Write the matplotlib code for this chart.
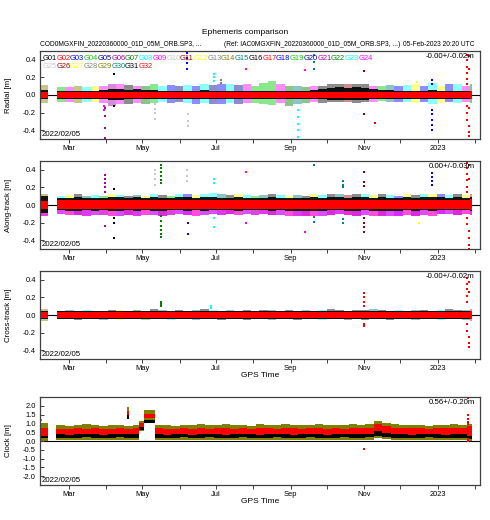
import numpy as np
import matplotlib
matplotlib.use("Agg")
import matplotlib.pyplot as plt
import matplotlib.dates as mdates
from matplotlib.ticker import FuncFormatter, FormatStrFormatter

plt.rcParams['font.family'] = ['Liberation Sans', 'DejaVu Sans']
plt.rcParams['axes.unicode_minus'] = False

nan = np.nan
# ---------------- data ----------------
week_dates = np.arange(np.datetime64('2022-02-05'), np.datetime64('2023-01-29'), 7)  # 52 weekly bins
data_end = np.datetime64('2023-01-29')

sat_names = ['G%02d' % i for i in range(1, 33)]
sat_palette = ['#000000', '#ff0000', '#0000ff', '#00c800', '#000096', '#a000a0', '#008000',
               '#00ffff', '#ff00ff', '#c8c8c8', '#960000', '#ffff00', '#808080', '#808000', '#008080']

# Radial [m]
rad_out_hi = [0.11, nan, 0.09, 0.09, 0.10, 0.09, 0.10, 0.10, 0.12, 0.12, 0.11, 0.10, 0.10, 0.12, 0.10, 0.11, 0.10, 0.11, 0.10, 0.12,
              0.11, 0.12, 0.13, 0.11, 0.12, 0.10, 0.14, 0.16, 0.12, 0.10, 0.10, 0.09, 0.10, 0.10, 0.12, 0.13, 0.12, 0.13, 0.12, 0.10,
              0.10, 0.11, 0.10, 0.11, 0.12, 0.10, 0.14, 0.10, 0.13, 0.12, 0.10, 0.12]
rad_out_lo = [-0.09, nan, -0.08, -0.08, -0.09, -0.08, -0.08, -0.09, -0.12, -0.10, -0.10, -0.09, -0.10, -0.09, -0.08, -0.09, -0.08, -0.09, -0.10, -0.09,
              -0.10, -0.10, -0.09, -0.10, -0.09, -0.09, -0.10, -0.11, -0.09, -0.12, -0.10, -0.09, -0.08, -0.09, -0.08, -0.08, -0.08, -0.09, -0.08, -0.08,
              -0.07, -0.08, -0.08, -0.08, -0.09, -0.08, -0.10, -0.09, -0.08, -0.09, -0.08, -0.09]
rad_blk_hi = [0.06, nan, 0.05, 0.05, 0.05, 0.05, 0.05, 0.06, 0.07, 0.07, 0.06, 0.07, 0.06, 0.06, 0.05, 0.05, 0.05, 0.05, 0.05, 0.06,
              0.05, 0.05, 0.05, 0.05, 0.05, 0.05, 0.05, 0.05, 0.05, 0.05, 0.05, 0.05, 0.06, 0.07, 0.08, 0.09, 0.08, 0.09, 0.08, 0.07,
              0.06, 0.06, 0.05, 0.05, 0.05, 0.05, 0.06, 0.05, 0.05, 0.05, 0.05, 0.05]
rad_blk_lo = [-0.05, nan, -0.04, -0.04, -0.04, -0.04, -0.04, -0.05, -0.06, -0.06, -0.05, -0.05, -0.05, -0.05, -0.04, -0.04, -0.04, -0.04, -0.04, -0.04,
              -0.04, -0.04, -0.04, -0.04, -0.04, -0.04, -0.04, -0.04, -0.04, -0.04, -0.04, -0.04, -0.05, -0.05, -0.06, -0.06, -0.06, -0.06, -0.06, -0.05,
              -0.05, -0.05, -0.04, -0.04, -0.04, -0.04, -0.04, -0.04, -0.04, -0.04, -0.04, -0.05]
rad_red_hi = [0.03, nan, 0.03, 0.03, 0.03, 0.03, 0.03, 0.03, 0.03, 0.03, 0.03, 0.03, 0.03, 0.03, 0.03, 0.03, 0.03, 0.03, 0.03, 0.03,
              0.03, 0.03, 0.03, 0.03, 0.03, 0.03, 0.03, 0.03, 0.03, 0.03, 0.03, 0.03, 0.03, 0.03, 0.03, 0.03, 0.03, 0.03, 0.03, 0.03,
              0.03, 0.03, 0.03, 0.03, 0.03, 0.03, 0.03, 0.03, 0.03, 0.03, 0.03, 0.04]
rad_red_lo = [-0.03, nan, -0.03, -0.03, -0.03, -0.03, -0.03, -0.03, -0.03, -0.03, -0.03, -0.03, -0.03, -0.03, -0.03, -0.03, -0.03, -0.03, -0.03, -0.03,
              -0.03, -0.03, -0.03, -0.03, -0.03, -0.03, -0.03, -0.03, -0.03, -0.03, -0.03, -0.03, -0.03, -0.03, -0.03, -0.03, -0.03, -0.03, -0.03, -0.03,
              -0.03, -0.03, -0.03, -0.03, -0.03, -0.03, -0.03, -0.03, -0.03, -0.03, -0.03, -0.04]
rad_fringe_sat = [14, 14, 4, 9, 14, 8, 12, 9, 6, 9, 1, 9, 7, 4, 8, 3, 20, 8, 3, 8,
                  20, 3, 8, 5, 9, 4, 4, 4, 9, 7, 15, 7, 9, 1, 1, 1, 11, 1, 1, 9,
                  4, 15, 3, 8, 12, 3, 8, 12, 3, 8, 9, 7]
rad_spikes = [('2022-03-31', 6, [-0.15, -0.24, -0.38, -0.49]), ('2022-03-30', 9, [-0.13, -0.17]),
              ('2022-04-07', 1, [0.24, -0.12]), ('2022-05-11', 10, [-0.1, -0.16, -0.2, -0.27]),
              ('2022-06-07', 3, [0.3, 0.36, 0.42, 0.48]), ('2022-06-08', 10, [-0.22, -0.3, -0.35]),
              ('2022-06-29', 8, [0.16, 0.2, 0.24]), ('2022-07-05', 13, [0.14, 0.17]),
              ('2022-07-26', 9, [0.3]), ('2022-09-07', 8, [-0.17, -0.25, -0.33, -0.4, -0.48]),
              ('2022-09-13', 9, [0.28]), ('2022-09-20', 15, [0.3, 0.38, 0.45]),
              ('2022-11-01', 11, [0.27, -0.22]), ('2022-11-10', 17, [-0.32]),
              ('2022-12-15', 12, [0.15]), ('2022-12-27', 18, [0.13, 0.17, -0.17, -0.22, -0.28, -0.34, -0.4]),
              ('2023-01-25', 32, [0.5, 0.45, 0.4, 0.32, 0.25, 0.18, 0.12, -0.12, -0.2, -0.28]),
              ('2023-01-27', 32, [0.44, 0.3, -0.35, -0.42, -0.47, -0.15])]

# Along-track [m]
al_out_hi = [0.13, nan, 0.10, 0.11, 0.12, 0.10, 0.11, 0.10, 0.12, 0.11, 0.10, 0.11, 0.10, 0.12, 0.11, 0.10, 0.12, 0.13, 0.11, 0.12,
             0.14, 0.12, 0.11, 0.12, 0.11, 0.10, 0.11, 0.12, 0.11, 0.10, 0.11, 0.10, 0.12, 0.11, 0.13, 0.12, 0.11, 0.12, 0.13, 0.11,
             0.12, 0.11, 0.10, 0.12, 0.11, 0.12, 0.13, 0.12, 0.11, 0.12, 0.11, 0.12]
al_out_lo = [-0.12, nan, -0.10, -0.11, -0.11, -0.12, -0.11, -0.11, -0.12, -0.12, -0.11, -0.12, -0.11, -0.11, -0.12, -0.11, -0.10, -0.11, -0.12, -0.11,
             -0.10, -0.11, -0.10, -0.11, -0.10, -0.11, -0.10, -0.11, -0.11, -0.12, -0.13, -0.12, -0.13, -0.12, -0.11, -0.10, -0.11, -0.12, -0.11, -0.12,
             -0.12, -0.13, -0.12, -0.11, -0.12, -0.11, -0.12, -0.10, -0.10, -0.11, -0.10, -0.11]
al_blk_hi = [0.10, nan, 0.08, 0.08, 0.09, 0.08, 0.08, 0.08, 0.09, 0.09, 0.08, 0.09, 0.08, 0.09, 0.08, 0.08, 0.09, 0.09, 0.08, 0.09,
             0.09, 0.08, 0.08, 0.09, 0.08, 0.08, 0.08, 0.09, 0.08, 0.08, 0.08, 0.08, 0.09, 0.08, 0.09, 0.09, 0.08, 0.09, 0.09, 0.08,
             0.09, 0.08, 0.08, 0.09, 0.08, 0.09, 0.09, 0.09, 0.08, 0.09, 0.08, 0.09]
al_blk_lo = [-0.09, nan, -0.06, -0.07, -0.07, -0.06, -0.07, -0.06, -0.07, -0.07, -0.06, -0.07, -0.06, -0.07, -0.07, -0.06, -0.06, -0.07, -0.06, -0.07,
             -0.06, -0.06, -0.06, -0.07, -0.06, -0.06, -0.06, -0.07, -0.06, -0.07, -0.07, -0.07, -0.07, -0.07, -0.06, -0.06, -0.07, -0.07, -0.06, -0.07,
             -0.07, -0.07, -0.07, -0.06, -0.07, -0.06, -0.07, -0.06, -0.06, -0.06, -0.06, -0.07]
al_red_hi = [0.05, nan, 0.06, 0.06, 0.06, 0.06, 0.06, 0.06, 0.06, 0.06, 0.06, 0.06, 0.06, 0.06, 0.06, 0.06, 0.06, 0.06, 0.06, 0.06,
             0.06, 0.06, 0.06, 0.06, 0.06, 0.06, 0.06, 0.06, 0.06, 0.06, 0.06, 0.06, 0.06, 0.06, 0.06, 0.06, 0.06, 0.06, 0.06, 0.06,
             0.06, 0.06, 0.06, 0.06, 0.06, 0.06, 0.06, 0.06, 0.06, 0.06, 0.06, 0.07]
al_red_lo = [-0.04, nan, -0.045, -0.045, -0.045, -0.045, -0.045, -0.045, -0.045, -0.045, -0.045, -0.045, -0.045, -0.045, -0.045, -0.045, -0.045, -0.045, -0.045, -0.045,
             -0.045, -0.045, -0.045, -0.045, -0.045, -0.045, -0.045, -0.045, -0.045, -0.045, -0.045, -0.045, -0.045, -0.045, -0.045, -0.045, -0.045, -0.045, -0.045, -0.045,
             -0.045, -0.045, -0.045, -0.045, -0.045, -0.045, -0.045, -0.045, -0.045, -0.045, -0.045, -0.06]
al_fringe_sat = [14, 14, 8, 12, 1, 15, 8, 4, 12, 8, 1, 15, 12, 8, 1, 4, 8, 3, 12, 8,
                 8, 15, 1, 12, 8, 4, 15, 1, 8, 12, 15, 1, 12, 8, 1, 15, 11, 1, 8, 12,
                 1, 8, 3, 12, 1, 8, 12, 3, 8, 1, 12, 2]
al_spikes = [('2022-03-31', 6, [0.34, 0.3, 0.25, 0.2, 0.15, -0.24]), ('2022-04-07', 1, [0.18, -0.15, -0.2, -0.37]),
             ('2022-05-11', 10, [0.4, 0.35, 0.3, 0.23]),
             ('2022-05-16', 7, [0.45, 0.42, 0.38, 0.33, 0.28, 0.25, -0.12, -0.18, -0.24, -0.28, -0.33, -0.36]),
             ('2022-06-07', 10, [0.4, 0.33, 0.27]), ('2022-06-08', 3, [-0.2, -0.33]),
             ('2022-06-29', 8, [0.3, 0.25, -0.15, -0.25]), ('2022-07-26', 24, [0.38, -0.2]),
             ('2022-09-13', 9, [-0.31]), ('2022-09-20', 15, [0.45, -0.14, -0.19]),
             ('2022-10-14', 30, [0.27, 0.23, 0.2, -0.16, -0.2]),
             ('2022-11-01', 11, [0.38, 0.26, 0.22, -0.15, -0.2, -0.25, -0.31]),
             ('2022-12-16', 12, [-0.2]), ('2022-12-27', 3, [0.36, 0.32, 0.27, 0.23]),
             ('2023-01-25', 32, [0.48, 0.42, 0.35, 0.28, 0.2, 0.15, -0.15, -0.22]),
             ('2023-01-27', 32, [0.45, 0.3, -0.3, -0.38, -0.45, -0.5])]

# Cross-track [m]
cr_out_hi = [0.07, nan, 0.05, 0.06, 0.05, 0.06, 0.05, 0.05, 0.06, 0.06, 0.05, 0.06, 0.05, 0.07, 0.06, 0.05, 0.06, 0.05, 0.06, 0.07,
             0.06, 0.05, 0.06, 0.05, 0.06, 0.05, 0.06, 0.06, 0.05, 0.06, 0.05, 0.06, 0.05, 0.06, 0.07, 0.06, 0.05, 0.06, 0.06, 0.07,
             0.06, 0.05, 0.06, 0.05, 0.06, 0.06, 0.05, 0.06, 0.07, 0.06, 0.06, 0.07]
cr_out_lo = [-0.07, nan, -0.05, -0.05, -0.06, -0.05, -0.05, -0.06, -0.05, -0.06, -0.05, -0.05, -0.06, -0.05, -0.05, -0.06, -0.05, -0.05, -0.06, -0.05,
             -0.05, -0.06, -0.05, -0.05, -0.06, -0.05, -0.05, -0.06, -0.05, -0.05, -0.06, -0.05, -0.05, -0.06, -0.05, -0.05, -0.06, -0.05, -0.06, -0.05,
             -0.05, -0.06, -0.05, -0.05, -0.06, -0.05, -0.05, -0.06, -0.05, -0.05, -0.06, -0.07]
cr_blk_hi = [0.05, nan, 0.04, 0.04, 0.04, 0.04, 0.04, 0.04, 0.04, 0.04, 0.04, 0.04, 0.04, 0.04, 0.04, 0.04, 0.04, 0.04, 0.04, 0.04,
             0.04, 0.04, 0.04, 0.04, 0.04, 0.04, 0.04, 0.04, 0.04, 0.04, 0.04, 0.04, 0.04, 0.04, 0.045, 0.045, 0.045, 0.045, 0.045, 0.045,
             0.04, 0.04, 0.04, 0.04, 0.04, 0.04, 0.04, 0.04, 0.04, 0.04, 0.04, 0.05]
cr_blk_lo = [-0.05, nan, -0.04, -0.04, -0.04, -0.04, -0.04, -0.04, -0.04, -0.04, -0.04, -0.04, -0.04, -0.04, -0.04, -0.04, -0.04, -0.04, -0.04, -0.04,
             -0.04, -0.04, -0.04, -0.04, -0.04, -0.04, -0.04, -0.04, -0.04, -0.04, -0.04, -0.04, -0.04, -0.04, -0.045, -0.045, -0.045, -0.045, -0.045, -0.045,
             -0.04, -0.04, -0.04, -0.04, -0.04, -0.04, -0.04, -0.04, -0.04, -0.04, -0.04, -0.05]
cr_red_hi = [0.03, nan, 0.03, 0.03, 0.03, 0.03, 0.03, 0.03, 0.03, 0.03, 0.03, 0.03, 0.03, 0.03, 0.03, 0.03, 0.03, 0.03, 0.03, 0.03,
             0.03, 0.03, 0.03, 0.03, 0.03, 0.03, 0.03, 0.03, 0.03, 0.03, 0.03, 0.03, 0.03, 0.03, 0.03, 0.03, 0.03, 0.03, 0.03, 0.03,
             0.03, 0.03, 0.03, 0.03, 0.03, 0.03, 0.03, 0.03, 0.03, 0.03, 0.03, 0.04]
cr_red_lo = [-0.03, nan, -0.03, -0.03, -0.03, -0.03, -0.03, -0.03, -0.03, -0.03, -0.03, -0.03, -0.03, -0.03, -0.03, -0.03, -0.03, -0.03, -0.03, -0.03,
             -0.03, -0.03, -0.03, -0.03, -0.03, -0.03, -0.03, -0.03, -0.03, -0.03, -0.03, -0.03, -0.03, -0.03, -0.03, -0.03, -0.03, -0.03, -0.03, -0.03,
             -0.03, -0.03, -0.03, -0.03, -0.03, -0.03, -0.03, -0.03, -0.03, -0.03, -0.03, -0.04]
cr_fringe_sat = [14, 14, 1, 15, 1, 8, 1, 15, 1, 12, 1, 7, 4, 1, 15, 8, 1, 1, 15, 1,
                 8, 1, 15, 1, 1, 8, 1, 15, 1, 1, 1, 15, 1, 8, 1, 1, 11, 1, 1, 15,
                 1, 1, 8, 1, 15, 1, 1, 8, 1, 1, 15, 2]
cr_spikes = [('2022-05-16', 7, [0.12, 0.15, 0.1]), ('2022-06-27', 8, [0.08, 0.1]),
             ('2022-11-01', 2, [0.25, 0.2, 0.15, 0.1, -0.1, -0.12]),
             ('2023-01-25', 32, [0.42, 0.35, 0.3, 0.22, 0.15, -0.1, -0.18]),
             ('2023-01-27', 32, [0.38, 0.26, -0.25, -0.32, -0.36])]

# Clock [m]
clk_dates = np.array(['2022-02-05', '2022-02-12', '2022-02-18', '2022-02-26', '2022-03-05', '2022-03-12', '2022-03-19',
                      '2022-03-26', '2022-04-02', '2022-04-09', '2022-04-16', '2022-04-23', '2022-04-28', '2022-05-02',
                      '2022-05-11', '2022-05-18', '2022-05-25', '2022-06-01', '2022-06-08', '2022-06-15', '2022-06-22',
                      '2022-06-29', '2022-07-06', '2022-07-13', '2022-07-20', '2022-07-27', '2022-08-03', '2022-08-10',
                      '2022-08-17', '2022-08-24', '2022-08-31', '2022-09-07', '2022-09-14', '2022-09-21', '2022-09-28',
                      '2022-10-05', '2022-10-12', '2022-10-19', '2022-10-26', '2022-11-02', '2022-11-09', '2022-11-16',
                      '2022-11-23', '2022-11-30', '2022-12-07', '2022-12-14', '2022-12-21', '2022-12-28', '2023-01-04',
                      '2023-01-11', '2023-01-18', '2023-01-25'], dtype='datetime64[D]')
clk_out_hi = [1.05, nan, 0.90, 0.88, 0.92, 0.95, 0.90, 0.88, 0.92, 0.90, 0.88, 0.92, 1.15, 1.75,
              0.92, 0.90, 0.88, 0.92, 0.90, 0.95, 0.90, 0.92, 0.95, 0.90, 0.92, 0.88, 0.95, 0.92, 0.90, 0.95, 0.92, 0.90, 0.92, 0.95,
              0.90, 0.92, 0.90, 0.95, 0.92, 0.95, 1.15, 1.00, 0.95, 0.92, 0.90, 0.92, 0.88, 0.90, 0.92, 0.95, 0.92, 0.98]
clk_out_lo = [0.00, nan, 0.05, 0.08, 0.05, 0.08, 0.05, 0.06, 0.05, 0.08, 0.05, 0.06, 0.55, 1.00,
              0.05, 0.08, 0.06, 0.05, 0.08, 0.06, 0.05, 0.04, 0.06, 0.05, 0.08, 0.05, 0.04, 0.06, 0.05, 0.08, 0.06, 0.05, 0.06, 0.05,
              0.06, 0.05, 0.08, 0.06, 0.05, 0.08, 0.15, 0.10, 0.06, 0.05, 0.04, 0.06, 0.05, 0.04, 0.06, 0.05, 0.05, 0.02]
clk_red_hi = [0.75, nan, 0.70, 0.68, 0.72, 0.70, 0.72, 0.68, 0.70, 0.72, 0.70, 0.72, 1.00, 1.55,
              0.72, 0.70, 0.68, 0.72, 0.70, 0.74, 0.70, 0.72, 0.74, 0.70, 0.72, 0.70, 0.74, 0.72, 0.70, 0.74, 0.72, 0.70, 0.72, 0.74,
              0.70, 0.72, 0.70, 0.74, 0.72, 0.75, 0.98, 0.85, 0.76, 0.74, 0.72, 0.74, 0.70, 0.72, 0.74, 0.75, 0.74, 0.85]
clk_red_lo = [0.30, nan, 0.38, 0.36, 0.38, 0.40, 0.38, 0.36, 0.38, 0.40, 0.38, 0.38, 0.78, 1.28,
              0.38, 0.36, 0.38, 0.40, 0.36, 0.38, 0.40, 0.38, 0.36, 0.38, 0.40, 0.38, 0.36, 0.38, 0.40, 0.38, 0.36, 0.38, 0.40, 0.38,
              0.36, 0.38, 0.40, 0.38, 0.38, 0.40, 0.55, 0.45, 0.40, 0.38, 0.36, 0.38, 0.40, 0.38, 0.36, 0.38, 0.40, 0.30]
clk_blk_hi = [0.45, nan, 0.42, 0.40, 0.42, 0.44, 0.42, 0.40, 0.42, 0.44, 0.42, 0.42, 0.85, 1.22,
              0.42, 0.40, 0.42, 0.44, 0.40, 0.42, 0.44, 0.42, 0.40, 0.42, 0.44, 0.42, 0.40, 0.42, 0.44, 0.42, 0.40, 0.42, 0.44, 0.42,
              0.40, 0.42, 0.44, 0.42, 0.42, 0.45, 0.62, 0.50, 0.44, 0.42, 0.40, 0.42, 0.44, 0.42, 0.40, 0.42, 0.44, 0.45]
clk_blk_lo = [0.15, nan, 0.18, 0.15, 0.18, 0.20, 0.16, 0.15, 0.18, 0.20, 0.16, 0.18, 0.65, 1.05,
              0.18, 0.15, 0.18, 0.20, 0.15, 0.18, 0.20, 0.16, 0.15, 0.18, 0.20, 0.16, 0.15, 0.18, 0.20, 0.16, 0.15, 0.18, 0.20, 0.16,
              0.15, 0.18, 0.20, 0.16, 0.18, 0.20, 0.30, 0.22, 0.18, 0.16, 0.15, 0.18, 0.20, 0.16, 0.15, 0.18, 0.16, 0.10]
clk_spikes = [('2022-02-06', 4, [1.18]), ('2022-04-19', 14, [1.9, 1.82, 1.75]), ('2022-04-19', 2, [1.65, 1.55]),
              ('2022-04-19', 1, [1.42, 1.32]), ('2022-11-01', 2, [-0.45]),
              ('2023-01-26', 2, [2.45, 1.45, 1.25, 1.1, 0.95, 0.1, 0.0])]

stats = ['-0.00+/-0.02m', '0.00+/-0.03m', '-0.00+/-0.02m', '0.56+/-0.20m']
ylabels = ['Radial [m]', 'Along-track [m]', 'Cross-track [m]', 'Clock [m]']

# ---------------- figure ----------------
W, H = 490, 520
fig = plt.figure(figsize=(W / 100, H / 100), dpi=100)
FS = 5.4
frame_col = '#404040'


def color_of(sat):
    return sat_palette[(sat - 1) % 15]


def band(ax, dates, end, lo, hi, cols, z, alpha=1.0):
    edges = list(mdates.date2num(dates.astype('datetime64[s]').astype(object))) + \
        [mdates.date2num(end.astype('datetime64[s]').astype(object))]
    for i in range(len(lo)):
        if np.isnan(lo[i]):
            continue
        c = cols[i] if isinstance(cols, list) else cols
        ax.fill_between([edges[i], edges[i + 1]], [lo[i]] * 2, [hi[i]] * 2, color=c, lw=0,
                        zorder=z, alpha=alpha)


def spikes(ax, sp):
    for d, sat, vals in sp:
        x = [np.datetime64(d).astype(object)] * len(vals)
        ax.scatter(x, vals, s=3.0, marker='s', color=color_of(sat), lw=0, zorder=5)


def month_fmt(x, pos):
    d = mdates.num2date(x)
    if d.month == 1:
        return str(d.year)
    if d.month in (3, 5, 7, 9, 11):
        return d.strftime('%b')
    return ''


panel_px = [(51, 139), (161, 249), (271, 359), (397, 485)]
axes = []
for k, (t, b) in enumerate(panel_px):
    ax = fig.add_axes([40 / W, 1 - b / H, 440 / W, (b - t) / H])
    axes.append(ax)
    ax.set_xlim(np.datetime64('2022-02-05').astype(object), np.datetime64('2023-02-05').astype(object))
    for s in ax.spines.values():
        s.set_color(frame_col)
        s.set_linewidth(0.9)
        s.set_zorder(12)
    ax.xaxis.set_major_locator(mdates.MonthLocator())
    ax.xaxis.set_major_formatter(FuncFormatter(month_fmt))
    ax.tick_params(axis='x', direction='out', length=3, width=0.7, color=frame_col, labelsize=FS, pad=1.5)
    ax.tick_params(axis='y', direction='in', length=3, width=0.7, color=frame_col, labelsize=FS, pad=3)
    ax.set_ylabel(ylabels[k], fontsize=FS + 0.3)
    ax.yaxis.set_label_coords(-0.064, 0.5)
    ax.axhline(0, color='k', lw=0.8, zorder=1)
    ax.text(0.004, 0.015, '2022/02/05', transform=ax.transAxes, fontsize=FS + 0.3, ha='left', va='bottom', zorder=10)
    ax.text(0.988, 0.935, stats[k], transform=ax.transAxes, fontsize=FS + 0.3, ha='right', va='center', zorder=10)

end = data_end
FR_A = 0.45
# Radial
ax = axes[0]
ax.set_ylim(-0.5, 0.5)
ax.set_yticks([-0.4, -0.2, 0.0, 0.2, 0.4])
ax.yaxis.set_major_formatter(FormatStrFormatter('%.1f'))
band(ax, week_dates, end, rad_out_lo, rad_out_hi, [color_of(s) for s in rad_fringe_sat], 2, FR_A)
band(ax, week_dates, end, rad_blk_lo, rad_blk_hi, '#000000', 3, 0.9)
band(ax, week_dates, end, rad_red_lo, rad_red_hi, '#ff0000', 4)
spikes(ax, rad_spikes)
for i, name in enumerate(sat_names):
    row, col = divmod(i, 24)
    ax.text(0.006 + col * 0.0312, 0.91 - row * 0.088, name, transform=ax.transAxes, fontsize=FS,
            color=color_of(i + 1), ha='left', va='center', zorder=11)

# Along-track
ax = axes[1]
ax.set_ylim(-0.5, 0.5)
ax.set_yticks([-0.4, -0.2, 0.0, 0.2, 0.4])
ax.yaxis.set_major_formatter(FormatStrFormatter('%.1f'))
band(ax, week_dates, end, al_out_lo, al_out_hi, [color_of(s) for s in al_fringe_sat], 2, FR_A)
band(ax, week_dates, end, al_out_lo, al_blk_lo, '#ff00ff', 2.5, 0.7)
band(ax, week_dates, end, al_blk_lo, al_blk_hi, '#000000', 3, 0.9)
band(ax, week_dates, end, al_red_lo, al_red_hi, '#ff0000', 4)
spikes(ax, al_spikes)

# Cross-track
ax = axes[2]
ax.set_ylim(-0.5, 0.5)
ax.set_yticks([-0.4, -0.2, 0.0, 0.2, 0.4])
ax.yaxis.set_major_formatter(FormatStrFormatter('%.1f'))
band(ax, week_dates, end, cr_out_lo, cr_out_hi, [color_of(s) for s in cr_fringe_sat], 2, FR_A)
band(ax, week_dates, end, cr_blk_lo, cr_blk_hi, '#000000', 3, 0.9)
band(ax, week_dates, end, cr_red_lo, cr_red_hi, '#ff0000', 4)
spikes(ax, cr_spikes)
ax.set_xlabel('GPS Time', fontsize=FS + 0.6, labelpad=0)

# Clock
ax = axes[3]
ax.set_ylim(-2.5, 2.5)
ax.set_yticks([-2.0, -1.5, -1.0, -0.5, 0.0, 0.5, 1.0, 1.5, 2.0])
ax.yaxis.set_major_formatter(FormatStrFormatter('%.1f'))
band(ax, clk_dates, end, clk_out_lo, clk_out_hi, '#808000', 2)
band(ax, clk_dates, end, clk_blk_lo, clk_blk_hi, '#000000', 3)
band(ax, clk_dates, end, clk_red_lo, clk_red_hi, '#ff0000', 4)
spikes(ax, clk_spikes)
ax.set_xlabel('GPS Time', fontsize=FS + 0.6, labelpad=0)

# titles
FSH = 4.75
fig.text(0.5, 1 - 32 / H, 'Ephemeris comparison', ha='center', va='center', fontsize=FS + 0.6)
fig.text(40 / W, 1 - 44 / H, 'COD0MGXFIN_20220360000_01D_05M_ORB.SP3, ...', ha='left', va='center', fontsize=FSH)
fig.text(224 / W, 1 - 44 / H, '(Ref: IAC0MGXFIN_20220360000_01D_05M_ORB.SP3, ...)', ha='left', va='center', fontsize=FSH)
fig.text(474 / W, 1 - 44 / H, '05-Feb-2023 20:20 UTC', ha='right', va='center', fontsize=FSH)

fig.savefig('out.png', dpi=100, facecolor='white')
